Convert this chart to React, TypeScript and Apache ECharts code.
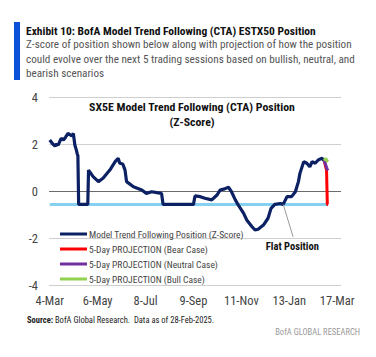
import React, { useEffect, useRef } from "react";
import * as echarts from "echarts";

// x values are days since 4-Mar-2024
const tickDays = [0, 63, 126, 189, 252, 315, 378];
const tickLabels = ["4-Mar", "6-May", "8-Jul", "9-Sep", "11-Nov", "13-Jan", "17-Mar"];

const ctaDays = [0, 4, 7, 9, 11, 15, 18, 21, 24, 29, 31, 33, 35, 36, 37, 38, 48, 50, 51, 57, 64, 70, 79, 86, 90, 92, 96, 99, 101, 110, 121, 127, 134, 141, 147, 149, 189, 191, 198, 204, 213, 220, 224, 230, 235, 239, 244, 248, 255, 259, 266, 270, 274, 281, 287, 291, 296, 303, 307, 312, 318, 323, 327, 329, 334, 338, 342, 345, 349, 353, 358, 361];
const ctaValues = [2.17, 2.0, 1.91, 2.0, 1.95, 2.24, 2.17, 2.3, 2.45, 2.34, 2.45, 1.96, 1.74, 1.6, 1.5, -0.57, -0.57, -0.57, 0.89, 0.61, 0.4, 0.54, 0.89, 1.25, 1.39, 1.18, 1.15, 0.89, 0.4, 0.18, 0.04, -0.1, -0.03, -0.07, -0.1, -0.57, -0.57, -0.21, -0.24, -0.31, -0.38, -0.17, 0.04, 0.09, 0.16, -0.03, -0.38, -0.6, -0.95, -1.23, -1.52, -1.66, -1.63, -1.45, -1.16, -0.74, -0.57, -0.53, -0.57, -0.24, -0.24, -0.03, 0.4, 0.75, 1.25, 1.18, 1.03, 1.25, 1.18, 1.32, 1.39, 1.29];

const projDays = [361, 362, 363, 364, 365, 366];
const bearValues = [1.29, 1.15, 1.0, 0.9, -0.57, -0.57];
const neutralValues = [1.29, 1.2, 1.1, 1.0, 0.92, 0.88];
const bullValues = [1.29, 1.35, 1.38, 1.32, 1.28, 1.25];

const flatDays = [0, 366];
const flatValues = [-0.57, -0.57];

const NAMES = [
  "Model Trend Following Position (Z-Score)",
  "5-Day PROJECTION (Bear Case)",
  "5-Day PROJECTION (Neutral Case)",
  "5-Day PROJECTION (Bull Case)",
];

const FONT = "'Liberation Sans Narrow', 'Arial Narrow', 'Roboto Condensed', 'Liberation Sans', sans-serif";

const zip = (xs: number[], ys: number[]) => xs.map((x, i) => [x, ys[i]]);

export default function App() {
  const ref = useRef<HTMLDivElement>(null);
  useEffect(() => {
    if (!ref.current) return;
    const chart = echarts.init(ref.current, null, { renderer: "svg" });
    const option: any = {
      animation: false,
      textStyle: { fontFamily: FONT },
      grid: { left: 49, right: 35, top: 97, bottom: 72 },
      xAxis: {
        type: "value",
        min: -1,
        max: 383,
        splitLine: { show: false },
        axisLine: { show: false },
        axisTick: { show: false },
        axisLabel: {
          customValues: tickDays,
          formatter: (v: number) => {
            const i = tickDays.indexOf(Math.round(v));
            return i >= 0 ? tickLabels[i] : "";
          },
          color: "#444",
          fontSize: 12.5,
          fontFamily: FONT,
          margin: 9,
        },
      },
      yAxis: {
        type: "value",
        min: -4,
        max: 4,
        interval: 2,
        axisLine: { show: false },
        axisTick: { show: false },
        axisLabel: { color: "#444", fontSize: 12.5, fontFamily: FONT, margin: 11 },
        splitLine: {
          lineStyle: { color: ["#cfcfcf", "#cfcfcf", "#6b6b6b", "#cfcfcf", "#cfcfcf"], width: 1.2 },
        },
      },
      legend: {
        data: NAMES,
        orient: "vertical",
        left: 55,
        top: 223,
        icon: "rect",
        itemWidth: 27,
        itemHeight: 3,
        itemGap: 3,
        textStyle: { color: "#444", fontSize: 9.5, fontFamily: FONT, lineHeight: 12, padding: [0, 0, 0, -3] },
      },
      series: [
        {
          name: "Flat",
          type: "line",
          data: zip(flatDays, flatValues),
          symbol: "none",
          lineStyle: { color: "#86d0f2", width: 3 },
          z: 1,
        },
        {
          name: NAMES[0],
          type: "line",
          data: zip(ctaDays, ctaValues),
          symbol: "none",
          color: "#0c2163",
          lineStyle: { color: "#0c2163", width: 3.2 },
          z: 3,
        },
        {
          name: NAMES[1],
          type: "line",
          data: zip(projDays, bearValues),
          symbol: "none",
          color: "#ff0000",
          lineStyle: { color: "#ff0000", width: 3 },
          z: 4,
        },
        {
          name: NAMES[2],
          type: "line",
          data: zip(projDays, neutralValues),
          symbol: "none",
          color: "#7030a0",
          lineStyle: { color: "#7030a0", width: 3 },
          z: 5,
        },
        {
          name: NAMES[3],
          type: "line",
          data: zip(projDays, bullValues),
          symbol: "none",
          color: "#92d050",
          lineStyle: { color: "#92d050", width: 3 },
          z: 6,
        },
      ],
    };
    chart.setOption(option);

    const a = chart.convertToPixel({ gridIndex: 0 }, [307, -0.57]) as number[];
    const b = chart.convertToPixel({ gridIndex: 0 }, [320, -1.95]) as number[];
    const t = chart.convertToPixel({ gridIndex: 0 }, [319, -2.38]) as number[];

    chart.setOption({
      graphic: [
        { type: "rect", shape: { x: 14, y: 22, width: 6, height: 58 }, style: { fill: "#0a50d8" } },
        {
          type: "text",
          x: 26,
          y: 31,
          style: {
            text: "Exhibit 10: BofA Model Trend Following (CTA) ESTX50 Position",
            font: `bold 11.5px ${FONT}`,
            fill: "#111",
            textVerticalAlign: "middle",
          },
        },
        {
          type: "text",
          x: 26,
          y: 37.8,
          style: {
            text:
              "Z-score of position shown below along with projection of how the position\ncould evolve over the next 5 trading sessions based on bullish, neutral, and\nbearish scenarios",
            font: `11.2px ${FONT}`,
            fill: "#555",
            lineHeight: 14.2,
            textVerticalAlign: "top",
          },
        },
        {
          type: "text",
          x: 192,
          y: 99,
          style: {
            text: "SX5E Model Trend Following (CTA) Position\n(Z-Score)",
            font: `bold 11.8px ${FONT}`,
            fill: "#111",
            textAlign: "center",
            textVerticalAlign: "top",
            lineHeight: 15.3,
          },
        },
        {
          type: "line",
          shape: { x1: a[0], y1: a[1], x2: b[0], y2: b[1] },
          style: { stroke: "#999", lineWidth: 1 },
          z: 10,
        },
        {
          type: "text",
          x: t[0],
          y: t[1],
          style: {
            text: "Flat Position",
            font: `bold 10.5px ${FONT}`,
            fill: "#111",
            textAlign: "center",
            textVerticalAlign: "middle",
          },
        },
        {
          type: "text",
          x: 27,
          y: 320,
          style: {
            text: "{b|Source:} BofA Global Research.  Data as of 28-Feb-2025.",
            font: `8.5px ${FONT}`,
            fill: "#222",
            textVerticalAlign: "middle",
            rich: { b: { fontWeight: "bold", fontSize: 8.5, fontFamily: FONT, fill: "#222" } },
          },
        },
        {
          type: "text",
          x: 360,
          y: 332,
          style: {
            text: "BofA GLOBAL RESEARCH",
            font: `8.5px ${FONT}`,
            fill: "#999",
            textAlign: "right",
            textVerticalAlign: "middle",
          },
        },
      ],
    });

    return () => chart.dispose();
  }, []);
  return (
    <div
      ref={ref}
      style={{ position: "fixed", left: 0, top: 0, width: 376, height: 357, background: "#fff" }}
    />
  );
}
